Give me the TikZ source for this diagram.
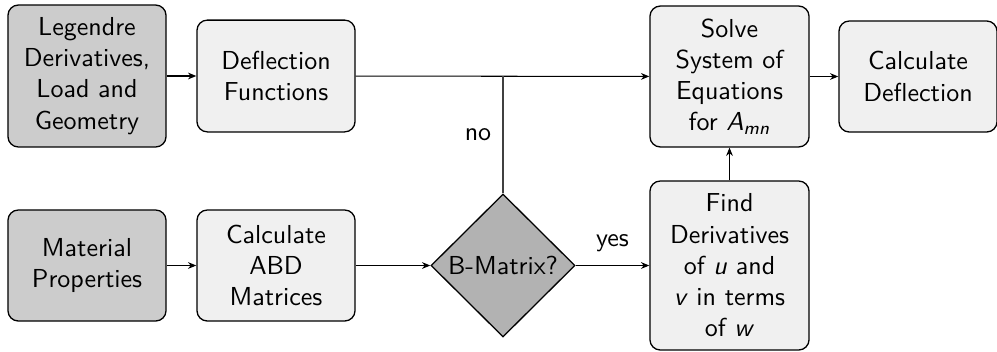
\documentclass[tikz,border=0pt]{standalone}
\usepackage{fontspec}
\usetikzlibrary{shapes.geometric,arrows.meta}
\renewcommand{\familydefault}{\sfdefault}
\begin{document}
% one unit = one pixel of the layout grid
\begin{tikzpicture}[x=0.3846pt, y=-0.3846pt,
  font=\sffamily,
  box/.style={draw=black, line width=0.5pt, rounded corners=4pt, align=center,
    inner sep=0pt, minimum width=60.8pt},
  inputbox/.style={box, fill=black!20},
  stepbox/.style={box, fill=black!6},
  decision/.style={diamond, aspect=1, draw=black, line width=0.5pt, fill=black!30,
    inner sep=0pt, minimum width=55.4pt, minimum height=55pt},
  flow/.style={line width=0.4pt, -{Stealth[length=3.2pt,width=2.6pt]}},
  link/.style={line width=0.4pt, draw=black!75}]
  \useasboundingbox (0,0) rectangle (997,351);

  \node[inputbox, minimum height=54.6pt] (leg) at (87,76) {Legendre\\Derivatives,\\Load and\\Geometry};
  \node[stepbox, minimum height=43pt] (defl) at (276,76) {Deflection\\Functions};
  \node[stepbox, minimum height=54.2pt, minimum width=61.2pt] (solve) at (729.5,76.5) {Solve\\System of\\Equations\\for \textit{A}\textsubscript{\textit{mn}}};
  \node[stepbox, minimum height=42.7pt] (calc) at (918,76.5) {Calculate\\Deflection};

  \node[inputbox, minimum height=42.7pt] (mat) at (87,265.5) {Material\\Properties};
  \node[stepbox, minimum height=42.7pt] (abd) at (276,265.5) {Calculate\\ABD\\Matrices};
  \node[decision] (dia) at (503,265.5) {B-Matrix?};
  \node[stepbox, minimum height=65pt, minimum width=61.2pt] (find) at (729.5,265.5) {Find\\Derivatives\\of \textit{u} and\\\textit{v} in terms\\of \textit{w}};

  \draw[flow] (leg) -- (defl);
  \draw[flow] (defl) -- (solve);
  \draw[flow] (solve) -- (calc);
  \draw[flow] (mat) -- (abd);
  \draw[flow] (abd) -- (dia);
  \draw[flow] (dia) -- node[above=1.7pt] {yes} (find);
  \draw[flow] (find) -- (solve);
  \draw[link] (dia.north) -- node[left=1pt, text=black] {no} (dia.north |- defl.east);
\end{tikzpicture}
\end{document}
